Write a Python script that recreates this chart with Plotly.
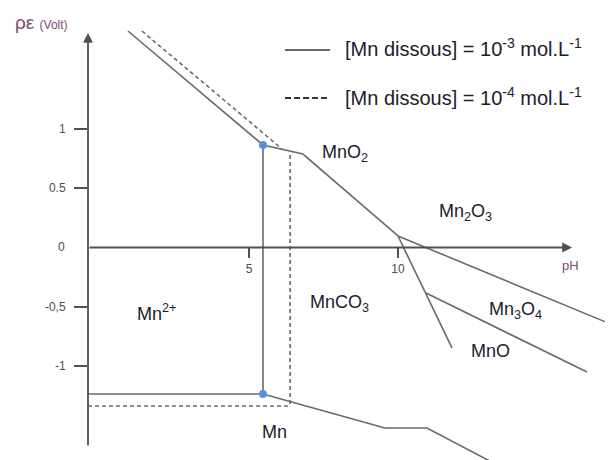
import plotly.graph_objects as go

# Boundary lines of the diagram, pH vs pe (Volt)
# [Mn dissous] = 1e-3 mol/L (solid)
ph_mn2_top = [0.94, 5.47, 6.81, 10.0]
pe_mn2_top = [1.825, 0.864, 0.788, 0.097]
ph_mn2_co3 = [5.47, 5.47]
pe_mn2_co3 = [0.864, -1.235]
ph_mn2_mn = [-0.40, 5.47]
pe_mn2_mn = [-1.235, -1.235]
ph_low = [5.47, 9.56, 10.97, 13.76]
pe_low = [-1.235, -1.522, -1.522, -1.89]
ph_mn2o3 = [10.0, 17.5]
pe_mn2o3 = [0.097, -0.684]
ph_steep = [10.0, 11.81]
pe_steep = [0.097, -0.847]
ph_mno = [10.94, 16.34]
pe_mno = [-0.384, -1.05]

# [Mn dissous] = 1e-4 mol/L (dashed)
ph_d_top = [1.41, 6.11]
pe_d_top = [1.825, 0.83]
ph_d_vert = [6.38, 6.38]
pe_d_vert = [0.78, -1.336]
ph_d_low = [-0.40, 6.38]
pe_d_low = [-1.336, -1.336]

# triple points
ph_pts = [5.47, 5.47]
pe_pts = [0.864, -1.235]

y_ticks = [1, 0.5, -0.5, -1]
y_ticktext = ['1', '0.5', '-0,5', '-1']
x_ticks = [5, 10]
x_ticktext = ['5', '10']

species = ['MnO<sub>2</sub>', 'Mn<sub>2</sub>O<sub>3</sub>', 'MnCO<sub>3</sub>',
           'Mn<sub>3</sub>O<sub>4</sub>', 'MnO', 'Mn<sup>2+</sup>', 'Mn']
species_ph = [8.22, 12.25, 8.05, 13.93, 13.09, 1.91, 5.87]
species_pe = [0.796, 0.291, -0.468, -0.535, -0.873, -0.544, -1.556]

# the page body adds an 8px offset, so the plot area starts a bit off-screen
XMIN, XMAX = -0.40, 17.48
YMIN, YMAX = -1.859, 2.019
FONT = 'Arial, Liberation Sans, sans-serif'
LINE = '#6a6a6a'
AXIS = '#505050'
PURPLE = '#7a4a70'

fig = go.Figure()

solid = [(ph_mn2_top, pe_mn2_top), (ph_mn2_co3, pe_mn2_co3), (ph_mn2_mn, pe_mn2_mn),
         (ph_low, pe_low), (ph_mn2o3, pe_mn2o3), (ph_steep, pe_steep), (ph_mno, pe_mno)]
for xs, ys in solid:
    fig.add_trace(go.Scatter(x=xs, y=ys, mode='lines', showlegend=False,
                             line=dict(color=LINE, width=1.6)))

dashed = [(ph_d_top, pe_d_top), (ph_d_vert, pe_d_vert), (ph_d_low, pe_d_low)]
for xs, ys in dashed:
    fig.add_trace(go.Scatter(x=xs, y=ys, mode='lines', showlegend=False,
                             line=dict(color=LINE, width=1.6, dash='4px,3px')))

fig.add_trace(go.Scatter(x=ph_pts, y=pe_pts, mode='markers', showlegend=False,
                         marker=dict(color='#5b8fd8', size=8)))

# axes with arrows
fig.add_annotation(x=XMIN, y=1.809, ax=XMIN, ay=-1.682, axref='x', ayref='y',
                   text='', showarrow=True, arrowhead=2, arrowsize=1.1,
                   arrowwidth=1.8, arrowcolor=AXIS)
fig.add_annotation(x=15.84, y=0, ax=XMIN, ay=0, axref='x', ayref='y',
                   text='', showarrow=True, arrowhead=2, arrowsize=1.1,
                   arrowwidth=1.8, arrowcolor=AXIS)

# axis titles
fig.add_annotation(x=15.77, y=-0.15, text='pH', showarrow=False,
                   font=dict(family=FONT, size=13, color=PURPLE))
fig.add_annotation(x=-0.088, xref='paper', xanchor='center', y=1.90,
                   text='ρε <span style="font-size:12px">(Volt)</span>',
                   showarrow=False, font=dict(family=FONT, size=19, color=PURPLE))
fig.add_annotation(x=-0.049, xref='paper', xanchor='center', y=0, text='0',
                   showarrow=False, font=dict(family=FONT, size=12, color='#4d4d4d'))

# region labels
for name, x, y in zip(species, species_ph, species_pe):
    fig.add_annotation(x=x, y=y, text=name, showarrow=False,
                       font=dict(family=FONT, size=18, color='#1c1c2c'))

# legend
fig.add_shape(type='line', x0=6.21, x1=7.72, y0=1.665, y1=1.665,
              line=dict(color='#333333', width=1.5))
fig.add_shape(type='line', x0=6.21, x1=7.72, y0=1.26, y1=1.26,
              line=dict(color='#333333', width=2, dash='6px,3px'))
fig.add_annotation(x=8.15, y=1.682, xanchor='left', showarrow=False,
                   text='[Mn dissous] = 10<sup>-3</sup> mol.L<sup>-1</sup>',
                   font=dict(family=FONT, size=20, color='#1c1c2c'))
fig.add_annotation(x=8.15, y=1.269, xanchor='left', showarrow=False,
                   text='[Mn dissous] = 10<sup>-4</sup> mol.L<sup>-1</sup>',
                   font=dict(family=FONT, size=20, color='#1c1c2c'))

fig.update_layout(
    width=613, height=460,
    margin=dict(l=80, r=0, t=0, b=0, autoexpand=False),
    paper_bgcolor='white', plot_bgcolor='white',
    xaxis=dict(range=[XMIN, XMAX], showgrid=False, zeroline=False, showline=False,
               tickvals=x_ticks, ticktext=x_ticktext, ticks='outside', ticklen=10,
               tickwidth=2, tickcolor=AXIS, anchor='free', automargin=False,
               position=(0 - YMIN) / (YMAX - YMIN),
               tickfont=dict(family=FONT, size=12, color='#4d4d4d')),
    yaxis=dict(range=[YMIN, YMAX], showgrid=False, zeroline=False, showline=False,
               tickvals=y_ticks, ticktext=y_ticktext, ticks='outside', ticklen=13,
               tickwidth=2, tickcolor=AXIS, ticklabelstandoff=6, automargin=False,
               tickfont=dict(family=FONT, size=12, color='#4d4d4d')),
)

fig.write_html("out.html")
